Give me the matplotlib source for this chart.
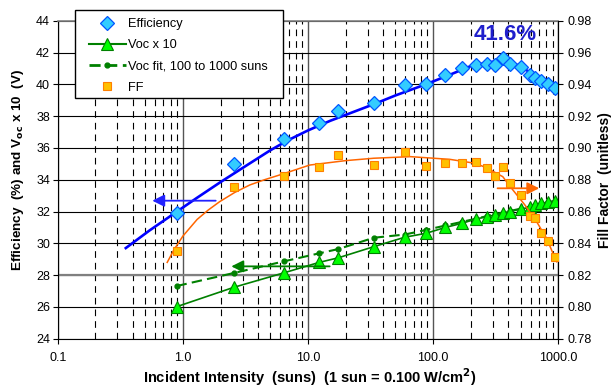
import numpy as np
import matplotlib
matplotlib.use("Agg")
import matplotlib.pyplot as plt
from matplotlib.lines import Line2D
from matplotlib.patches import Rectangle

plt.rcParams['font.family'] = ['Liberation Sans', 'DejaVu Sans']

# ---------------- data ----------------
suns = [0.89, 2.55, 6.47, 12.3, 17.5, 33.6, 59.2, 87.8, 125.5, 170.5, 220, 267,
        313, 360, 410, 501, 593, 655, 733, 826, 945]
efficiency = [31.93, 35.0, 36.58, 37.55, 38.32, 38.84, 39.96, 40.02, 40.58, 41.0,
              41.21, 41.26, 41.21, 41.65, 41.28, 41.07, 40.58, 40.38, 40.2, 40.0, 39.75]
voc_x10 = [26.01, 27.23, 28.15, 28.8, 29.09, 29.79, 30.38, 30.63, 31.0, 31.26,
           31.53, 31.67, 31.78, 31.89, 31.99, 32.16, 32.26, 32.41, 32.52, 32.58, 32.68]
voc_fit = [27.31, 28.13, 28.87, 29.37, 29.64, 30.35, 30.55, 30.84, 31.12, 31.35,
           31.55, 31.7, 31.82, 31.93, 32.03, 32.18, 32.31, 32.39, 32.47, 32.57, 32.67]
ff = [0.8352, 0.8754, 0.8825, 0.888, 0.8955, 0.8894, 0.8972, 0.8886, 0.8905, 0.8907,
      0.8909, 0.8872, 0.8821, 0.8878, 0.8781, 0.8702, 0.8572, 0.8557, 0.8463, 0.8414, 0.8314]

# curve (efficiency model line)
eff_fit_suns = [0.35, 0.54, 0.88, 1.28, 2.0, 3.16, 5.0, 7.0, 10.0, 15.0, 22.0, 33.6,
                50.0, 87.5, 136, 200, 300, 350, 420, 500, 593, 736, 960]
eff_fit = [29.7, 30.8, 31.95, 32.83, 33.85, 34.85, 35.85, 36.5, 37.1, 37.7, 38.2, 38.75,
           39.3, 40.0, 40.6, 41.15, 41.42, 41.47, 41.38, 41.12, 40.75, 40.27, 39.7]

# curve (fill factor model line)
ff_fit_suns = [0.75, 0.85, 1.0, 1.3, 1.6, 1.97, 2.6, 3.43, 4.5, 6.29, 10.3, 20.0, 33.6,
               65.8, 136, 217, 267, 360, 434, 541, 671, 806, 969]
ff_fit = [0.828, 0.836, 0.8445, 0.855, 0.861, 0.8662, 0.872, 0.8767, 0.880, 0.8836,
          0.8892, 0.892, 0.8935, 0.8945, 0.8928, 0.8903, 0.8875, 0.8819, 0.8735, 0.8641,
          0.8536, 0.8431, 0.8284]

x_ticks = [0.1, 1, 10, 100, 1000]
x_tick_labels = ['0.1', '1.0', '10.0', '100.0', '1000.0']
left_ticks = list(range(24, 45, 2))
right_ticks = [0.78, 0.80, 0.82, 0.84, 0.86, 0.88, 0.90, 0.92, 0.94, 0.96, 0.98]

# arrows: (tail, tip) in (suns, left-axis value)
arrow_eff = ((1.83, 32.68), (0.57, 32.68))
arrow_voc = ((14.9, 28.55), (2.44, 28.55))
arrow_ff = ((327, 33.46), (704, 33.46))

# ---------------- figure ----------------
W, H = 616, 387
fig = plt.figure(figsize=(W / 100, H / 100), dpi=100)
L, R, T, B = 57.7, 558.3, 20.7, 338.7
ax = fig.add_axes([L / W, 1 - B / H, (R - L) / W, (B - T) / H])
ax.set_xscale('log')
ax.set_xlim(0.1, 1000)
ax.set_ylim(24, 44)
ax.set_xticks(x_ticks)
ax.set_xticklabels(x_tick_labels)
ax.set_yticks(left_ticks)
ax.tick_params(axis='x', which='major', direction='out', length=3.5, width=0.8,
               labelsize=9, pad=6)
ax.tick_params(axis='x', which='minor', length=0)
ax.tick_params(axis='y', direction='out', length=3.5, width=0.8, labelsize=9, pad=2)

# grid
ax.grid(True, which='major', axis='y', color='black', lw=0.8)
ax.grid(True, which='major', axis='x', color='#555555', lw=1.0)
ax.grid(True, which='minor', axis='x', color='black', lw=0.8, linestyle=(0, (6, 4.5)))
ax.axhline(28, color='#808080', lw=1.6, zorder=0.9)
ax.set_axisbelow(True)
for s in ['left', 'bottom', 'right']:
    ax.spines[s].set_color('black')
ax.spines['top'].set_color('#808080')
ax.spines['top'].set_linewidth(1.2)

blue = '#0000FF'
green = '#008000'
orange = '#FF6600'

# efficiency
ax.plot(eff_fit_suns, eff_fit, color=blue, lw=1.9, zorder=3)
ax.plot(suns, efficiency, linestyle='none', marker='D', ms=7.3,
        mfc='#33CCFF', mec='#0055FF', mew=0.9, zorder=4)

# Voc
ax.plot(suns, voc_fit, color=green, lw=1.5, linestyle=(0, (5, 2.5)),
        marker='o', ms=3.5, mfc=green, mec=green, zorder=3)
ax.plot(suns, voc_x10, color=green, lw=1.2, marker='^', ms=8.5,
        mfc='#00FF00', mec=green, mew=0.8, zorder=4)

# arrows
for (tail, tip), col in [(arrow_eff, '#2222FF'), (arrow_voc, green), (arrow_ff, orange)]:
    ax.annotate('', xy=tip, xytext=tail,
                arrowprops=dict(arrowstyle='-|>', color=col, lw=1.3,
                                mutation_scale=18, shrinkA=0, shrinkB=0),
                zorder=5)

# FF on right axis
ax2 = ax.twinx()
ax2.set_ylim(0.78, 0.98)
ax2.set_yticks(right_ticks)
ax2.set_yticklabels([f'{v:.2f}' for v in right_ticks])
ax2.tick_params(axis='y', direction='out', length=3.5, width=0.8, labelsize=9, pad=3)
for s in ['left', 'bottom', 'top']:
    ax2.spines[s].set_visible(False)
ax2.plot(ff_fit_suns, ff_fit, color=orange, lw=1.1, zorder=3)
ax2.plot(suns, ff, linestyle='none', marker='s', ms=5.8,
         mfc='#FFC000', mec='#FF7F00', mew=0.8, zorder=4)

# labels
fig.text(18 / W, 1 - 170 / H, 'Efficiency  (%) and V$_{\\mathbf{oc}}$ x 10  (V)',
         rotation=90, ha='center', va='center', fontsize=9.7, fontweight='bold')
fig.text(605 / W, 1 - 180 / H, 'Fill Factor  (unitless)',
         rotation=90, ha='center', va='center', fontsize=10, fontweight='bold')
fig.text(310 / W, 1 - 377 / H,
         'Incident Intensity  (suns)  (1 sun = 0.100 W/cm$^{\\mathbf{2}}$)',
         ha='center', va='center', fontsize=10.5, fontweight='bold')
fig.text(505 / W, 1 - 34 / H, '41.6%', ha='center', va='center',
         fontsize=16, fontweight='bold', color='#1F1FCC')

# legend box
box = Rectangle((75 / W, 1 - 98 / H), (283 - 75) / W, (98 - 10) / H,
                transform=fig.transFigure, facecolor='white', edgecolor='black',
                lw=1.0, zorder=4)
fig.patches.append(box)
handles = [
    Line2D([], [], linestyle='none', marker='D', ms=7.3, mfc='#33CCFF', mec='#0055FF', mew=0.9),
    Line2D([], [], color=green, lw=1.5, marker='^', ms=8.5, mfc='#00FF00', mec=green, mew=0.8),
    Line2D([], [], color=green, lw=2.0, linestyle=(0, (4, 2)), marker='o', ms=3.5,
           mfc=green, mec=green),
    Line2D([], [], linestyle='none', marker='s', ms=5.8, mfc='#FFC000', mec='#FF7F00', mew=0.8),
]
labels = ['Efficiency', 'Voc x 10', 'Voc fit, 100 to 1000 suns', 'FF']
leg = fig.legend(handles, labels, loc='upper left',
                 bbox_to_anchor=(86 / W, 1 - 15.5 / H), frameon=False,
                 fontsize=9.2, handlelength=2.9, handletextpad=0.15,
                 labelspacing=0.72, borderpad=0.2, borderaxespad=0, numpoints=1)
leg.set_zorder(6)

fig.savefig('out.png', dpi=100)
